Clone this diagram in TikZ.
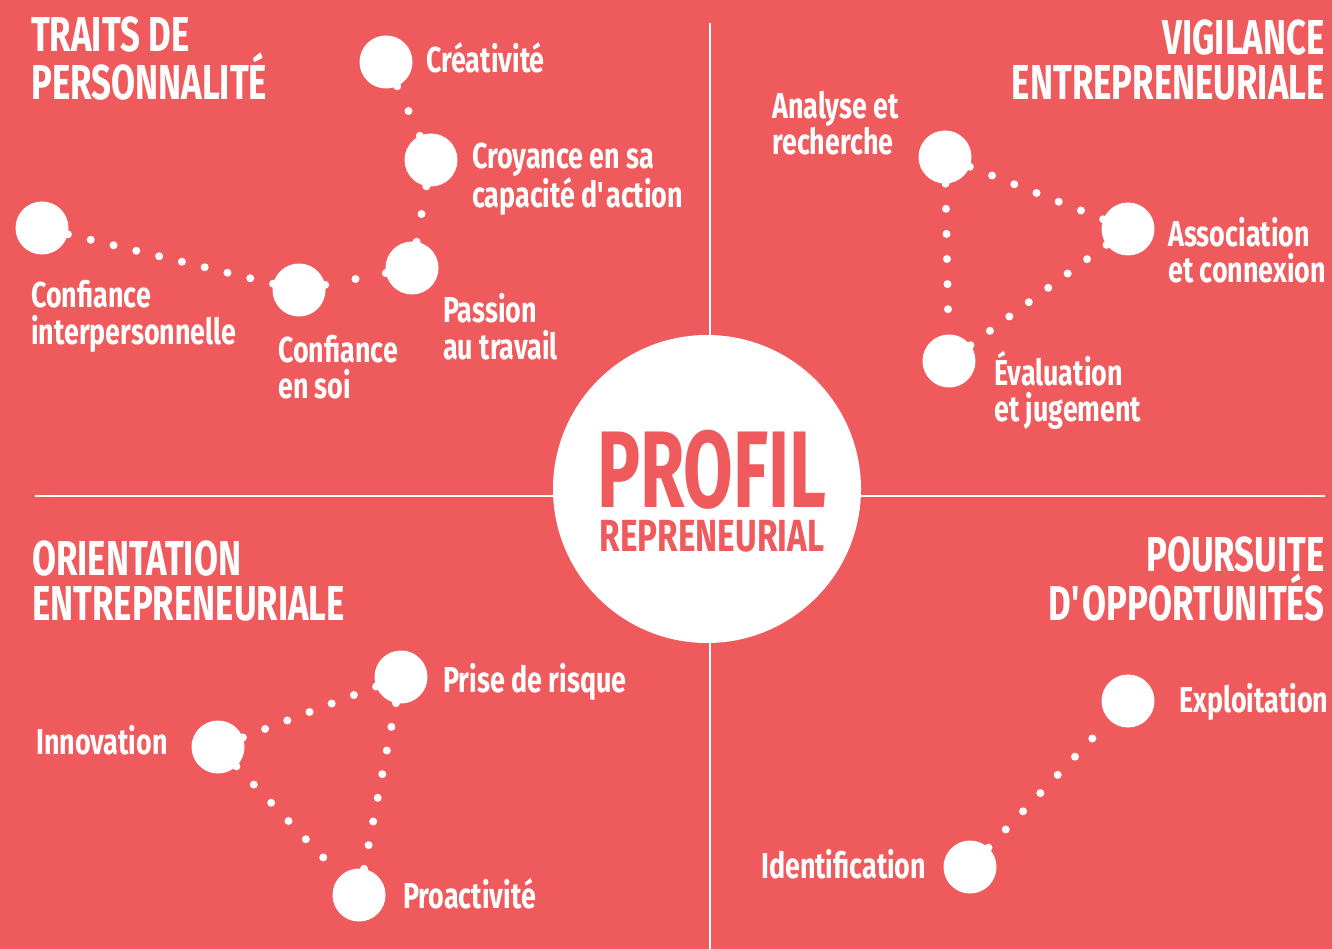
\documentclass[tikz,border=0pt]{standalone}
\usepackage{fontspec}
\usetikzlibrary{decorations}
\setmainfont{Fira Sans}[FakeStretch=0.747]
\newfontfamily\titlefont{Fira Sans}[FakeStretch=0.71]
\newfontfamily\profilfont{Fira Sans}[FakeStretch=0.66]
\newfontfamily\reprenfont{Fira Sans}[FakeStretch=0.74]
\definecolor{coral}{HTML}{EF5A5C}

\begin{document}
\begin{tikzpicture}[x = 1pt, y = -1pt, font = \bfseries]
	\tikzstyle{bulletStyle}=[shape = circle, minimum size = 53pt, inner sep = 0pt, fill = white]
	\tikzstyle{dotStyle}=[draw = white, line width = 8pt, line cap = round, dash pattern = on 0pt off 22pt, dash expand off]
	\tikzstyle{labelStyle}=[text = white, inner sep = 0pt, align = left, font = \fontsize{36}{36}\selectfont\bfseries]
	\tikzstyle{titleStyle}=[text = white, inner sep = 0pt, font = \titlefont\fontsize{49}{45}\selectfont\bfseries]
	\tikzstyle{ruleStyle}=[draw = white, line width = 2.5pt]
	\useasboundingbox (0,0) rectangle (1332,949);
	\fill[coral] (0,0) rectangle (1332,949);
	\draw[ruleStyle] (710,23) -- (710,949);
	\draw[ruleStyle] (35,496) -- (1325,496);
	% centre
	\node[shape = circle, minimum size = 308pt, inner sep = 0pt, fill = white] (profil) at (707,489) {};
	\node[text = coral, inner sep = 0pt, anchor = base, font = \profilfont\fontsize{109}{109}\selectfont\bfseries] (profilT) at (712,507) {PROFIL};
	\node[text = coral, inner sep = 0pt, anchor = base, font = \reprenfont\fontsize{45}{45}\selectfont\bfseries] (reprenT) at (712,551) {REPRENEURIAL};
	% traits de personnalite
	\node[titleStyle, anchor = base west, align = left] (traits) at (31,100) {TRAITS DE\\PERSONNALITÉ};
	\node[bulletStyle] (crea) at (386,62) {};
	\node[bulletStyle] (croy) at (431,160) {};
	\node[bulletStyle] (pass) at (412,268) {};
	\node[bulletStyle] (soi) at (299,290) {};
	\node[bulletStyle] (inter) at (42,228) {};
	\node[labelStyle, anchor = base west] (creaL) at (426,73) {Créativité};
	\node[labelStyle, anchor = base west] (croyL) at (472,208) {Croyance en sa\\capacité d\textquotesingle action};
	\node[labelStyle, anchor = base west] (passL) at (443,359) {Passion\\au travail};
	\node[labelStyle, anchor = base west] (soiL) at (278,398) {Confiance\\en soi};
	\node[labelStyle, anchor = base west] (interL) at (31,344) {Confiance\\interpersonnelle};
	\draw[dotStyle] (crea) -- (croy);
	\draw[dotStyle] (croy) -- (pass);
	\draw[dotStyle] (soi) -- (pass);
	\draw[dotStyle] (inter) -- (soi);
	% vigilance entrepreneuriale
	\node[titleStyle, anchor = base east, align = right] (vigil) at (1325,100) {VIGILANCE\\ENTREPRENEURIALE};
	\node[bulletStyle] (ana) at (945,157) {};
	\node[bulletStyle] (asso) at (1128,229) {};
	\node[bulletStyle] (eval) at (949,361) {};
	\node[labelStyle, anchor = base west] (anaL) at (772,155) {Analyse et\\recherche};
	\node[labelStyle, anchor = base west] (assoL) at (1168,283) {Association\\et connexion};
	\node[labelStyle, anchor = base west] (evalL) at (994,421) {Évaluation\\et jugement};
	\draw[dotStyle] (ana) -- (asso);
	\draw[dotStyle] (ana) -- (eval);
	\draw[dotStyle] (asso) -- (eval);
	% orientation entrepreneuriale
	\node[titleStyle, anchor = base west, align = left] (orient) at (32,620) {ORIENTATION\\ENTREPRENEURIALE};
	\node[bulletStyle] (inno) at (218,747) {};
	\node[bulletStyle] (prise) at (401,677) {};
	\node[bulletStyle] (proa) at (359,895) {};
	\node[labelStyle, anchor = base west] (innoL) at (36,754) {Innovation};
	\node[labelStyle, anchor = base west] (priseL) at (443,692) {Prise de risque};
	\node[labelStyle, anchor = base west] (proaL) at (403,908) {Proactivité};
	\draw[dotStyle] (inno) -- (prise);
	\draw[dotStyle] (prise) -- (proa);
	\draw[dotStyle] (inno) -- (proa);
	% poursuite d'opportunites
	\node[titleStyle, anchor = base east, align = right] (pours) at (1325,620) {POURSUITE\\D\textquotesingle OPPORTUNITÉS};
	\node[bulletStyle] (expl) at (1128,701) {};
	\node[bulletStyle] (iden) at (970,867) {};
	\node[labelStyle, anchor = base west] (explL) at (1179,712) {Exploitation};
	\node[labelStyle, anchor = base west] (idenL) at (761,878) {Identification};
	\draw[dotStyle] (iden) -- (expl);
\end{tikzpicture}
\end{document}
